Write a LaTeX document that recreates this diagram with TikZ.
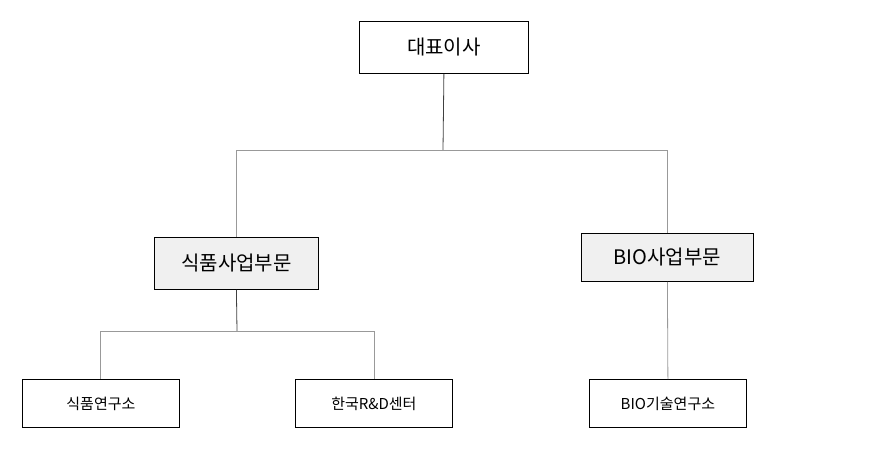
\documentclass[tikz,border=0pt]{standalone}
\usepackage{fontspec}
\setmainfont{Noto Sans CJK KR}
\begin{document}
\begin{tikzpicture}[x=1pt,y=-1pt,
 box/.style={draw=black,line width=0.8pt,inner sep=0pt,anchor=north west},
 big/.style={font=\fontsize{20}{24}\selectfont},
 small/.style={font=\fontsize{15}{18}\selectfont},
 gl/.style={draw=gray!80,line width=0.8pt},
 dl/.style={draw=black!75,line width=0.8pt}]
\useasboundingbox (0,0) rectangle (882,450);
\node[box,big,minimum width=169pt,minimum height=52pt] (ceo) at (359,21) {대표이사};
\node[box,big,fill=black!6,minimum width=164pt,minimum height=52pt] (food) at (154,237) {식품사업부문};
\node[box,big,fill=black!6,minimum width=172pt,minimum height=48pt] (bio) at (581,233) {BIO사업부문};
\node[box,small,minimum width=157pt,minimum height=48pt] (fl) at (22,379) {식품연구소};
\node[box,small,minimum width=157pt,minimum height=48pt] (kr) at (295,379) {한국R\&D센터};
\node[box,small,minimum width=157pt,minimum height=48pt] (bl) at (589,379) {BIO기술연구소};
\coordinate (c1) at (443,150);
\coordinate (c2) at (237,331);
\draw[dl] (ceo.south) -- (c1);
\draw[gl] (c1) -| (food.north);
\draw[gl] (c1) -| (bio.north);
\draw[dl] (food.south) -- (c2);
\draw[gl] (c2) -| (fl.north -| 100,0);
\draw[gl] (c2) -| (kr.north -| 374,0);
\draw[gl] (bio.south) -- (bl.north);
\end{tikzpicture}
\end{document}
